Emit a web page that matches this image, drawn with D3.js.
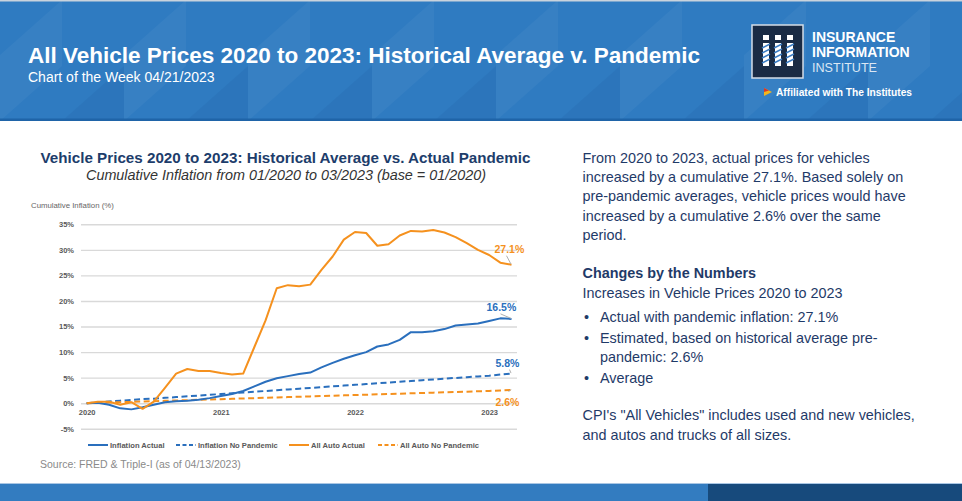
<!DOCTYPE html>
<html>
<head>
<meta charset="utf-8">
<script src="https://cdn.jsdelivr.net/npm/d3@7"></script>
<style>
  html, body { margin: 0; padding: 0; background: #fff; }
  svg { display: block; }
  text { font-family: "Liberation Sans", Arial, sans-serif; }
</style>
</head>
<body>
<svg id="chart" width="962" height="501"></svg>
<script>
// ---------------- DATA ----------------
const months = [
  "2020-01","2020-02","2020-03","2020-04","2020-05","2020-06","2020-07","2020-08","2020-09","2020-10","2020-11","2020-12",
  "2021-01","2021-02","2021-03","2021-04","2021-05","2021-06","2021-07","2021-08","2021-09","2021-10","2021-11","2021-12",
  "2022-01","2022-02","2022-03","2022-04","2022-05","2022-06","2022-07","2022-08","2022-09","2022-10","2022-11","2022-12",
  "2023-01","2023-02","2023-03"
];
const inflationActual = [0.0,0.1,-0.3,-1.0,-1.2,-0.8,-0.3,0.2,0.4,0.5,0.7,1.0,
  1.4,1.8,2.4,3.3,4.2,4.9,5.3,5.7,6.0,7.0,7.9,8.7,
  9.4,10.0,11.1,11.5,12.4,13.9,13.9,14.1,14.5,15.2,15.4,15.6,
  16.1,16.6,16.5];
const inflationNoPandemic = [0.0,0.2,0.35,0.5,0.65,0.8,0.9,1.05,1.2,1.35,1.5,1.65,
  1.8,1.95,2.1,2.25,2.4,2.55,2.7,2.85,3.0,3.15,3.3,3.45,
  3.6,3.75,3.9,4.05,4.2,4.35,4.5,4.65,4.8,4.95,5.1,5.25,
  5.4,5.6,5.8];
const autoActual = [0.0,0.3,0.3,-0.3,0.2,-1.1,0.3,3.0,5.8,6.7,6.3,6.3,
  5.9,5.6,5.8,11.0,16.2,22.5,23.1,22.9,23.2,26.1,28.7,32.0,
  33.5,33.3,30.8,31.1,32.8,33.7,33.6,33.9,33.4,32.5,31.3,30.0,
  29.0,27.5,27.1];
const autoNoPandemic = [0.0,0.07,0.14,0.2,0.27,0.34,0.4,0.47,0.54,0.6,0.67,0.74,
  0.8,0.87,0.94,1.0,1.07,1.14,1.2,1.27,1.34,1.4,1.47,1.54,
  1.6,1.67,1.74,1.8,1.87,1.94,2.0,2.07,2.14,2.2,2.27,2.34,
  2.4,2.5,2.6];
const yTicks = [-5,0,5,10,15,20,25,30,35];
const xTickMonths = ["2020-01","2021-01","2022-01","2023-01"];
const xTickLabels = ["2020","2021","2022","2023"];
const seriesNames = ["Inflation Actual","Inflation No Pandemic","All Auto Actual","All Auto No Pandemic"];
const endLabels = ["16.5%","5.8%","27.1%","2.6%"];

// ---------------- STYLE ----------------
const BLUE = "#2a6fbd", ORANGE = "#f5911e";
const NAVY = "#1d3d6b";
const svg = d3.select("#chart");

// ---------- Header ----------
const hdr = svg.append("g");
hdr.append("rect").attr("x",0).attr("y",0).attr("width",962).attr("height",121).attr("fill","#2f7bc1");
const pat = hdr.append("g");
for (let k = -2; k < 18; k++) {
  const x0 = k * 62;
  if (k % 2 === 0) {
    pat.append("polygon")
      .attr("points", `${x0},121 ${x0},55 ${x0+62},0 ${x0+62},66`)
      .attr("fill","#ffffff").attr("opacity",0.04);
  } else {
    pat.append("polygon")
      .attr("points", `${x0},121 ${x0+62},66 ${x0+62},121`)
      .attr("fill","#1a5a9c").attr("opacity",0.15);
  }
}
hdr.append("rect").attr("x",0).attr("y",0).attr("width",962).attr("height",1.5).attr("fill","#c9d3dd");
hdr.append("rect").attr("x",0).attr("y",118.5).attr("width",962).attr("height",2.5).attr("fill","#1f64a8");

hdr.append("text").attr("x",28).attr("y",63).attr("fill","#fff")
  .attr("font-size",22.4).attr("font-weight","bold")
  .attr("textLength",672).attr("lengthAdjust","spacingAndGlyphs")
  .text("All Vehicle Prices 2020 to 2023: Historical Average v. Pandemic");
hdr.append("text").attr("x",28).attr("y",82).attr("fill","#fff")
  .attr("font-size",14)
  .text("Chart of the Week 04/21/2023");

// logo
const logo = hdr.append("g");
logo.append("rect").attr("x",752).attr("y",25).attr("width",51).attr("height",53)
  .attr("fill","#1a2b44").attr("stroke","#d5dde6").attr("stroke-width",1.5);
[763,775,787].forEach((lx,j) => {
  logo.append("rect").attr("x",lx).attr("y",35).attr("width",6).attr("height",5).attr("fill","#fff");
  logo.append("rect").attr("x",lx).attr("y",43).attr("width",6).attr("height",23).attr("fill","#fff");
  for (let s = 0; s < 4; s++) {
    logo.append("line").attr("x1",lx-1).attr("y1",48+s*5).attr("x2",lx+7).attr("y2",44+s*5)
      .attr("stroke","#3a7cc4").attr("stroke-width",1.4);
  }
});
logo.append("text").attr("x",812).attr("y",42).attr("fill","#fff").attr("font-size",14).attr("font-weight","bold").text("INSURANCE");
logo.append("text").attr("x",812).attr("y",57).attr("fill","#fff").attr("font-size",14).attr("font-weight","bold").text("INFORMATION");
logo.append("text").attr("x",812).attr("y",72).attr("fill","#dbe7f4").attr("font-size",13.5)
  .attr("textLength",65).attr("lengthAdjust","spacingAndGlyphs").text("INSTITUTE");
logo.append("polygon").attr("points","764,88 772,92 764,96").attr("fill","#f2b51c");
logo.append("polygon").attr("points","764,88 769,90.5 764,92").attr("fill","#d9362b");
logo.append("text").attr("x",776).attr("y",96).attr("fill","#fff").attr("font-size",10.5).attr("font-weight","bold")
  .attr("textLength",136).attr("lengthAdjust","spacingAndGlyphs").text("Affiliated with The Institutes");

// ---------- Footer band ----------
svg.append("rect").attr("x",0).attr("y",484).attr("width",708).attr("height",17).attr("fill","#337cc0");
svg.append("rect").attr("x",708).attr("y",484).attr("width",254).attr("height",17).attr("fill","#174a7c");
svg.append("rect").attr("x",0).attr("y",483).attr("width",962).attr("height",1).attr("fill","#a9c6e4");

// ---------- Chart ----------
const x = d3.scalePoint().domain(months).range([86.7, 511.5]);
const y = d3.scaleLinear().domain([-5, 35]).range([428.8, 224.3]);

svg.append("text").attr("x",285.5).attr("y",163).attr("text-anchor","middle")
  .attr("fill",NAVY).attr("font-size",15.2).attr("font-weight","bold")
  .attr("textLength",490).attr("lengthAdjust","spacingAndGlyphs")
  .text("Vehicle Prices 2020 to 2023: Historical Average vs. Actual Pandemic");
svg.append("text").attr("x",286).attr("y",180).attr("text-anchor","middle")
  .attr("fill","#333").attr("font-size",14.2).attr("font-style","italic")
  .attr("textLength",400).attr("lengthAdjust","spacingAndGlyphs")
  .text("Cumulative Inflation from 01/2020 to 03/2023 (base = 01/2020)");
svg.append("text").attr("x",31).attr("y",207.5).attr("fill","#666666").attr("font-size",7.8)
  .text("Cumulative Inflation (%)");

// y axis via d3 axis (gridlines)
const yAxis = d3.axisLeft(y).tickValues(yTicks).tickSize(-(517-81)).tickFormat(d => d + "%");
const gy = svg.append("g").attr("transform","translate(81,0)").call(yAxis);
gy.select(".domain").remove();
gy.selectAll(".tick line").attr("stroke","#d9d9d9").attr("stroke-width",1.4);
gy.selectAll(".tick text").attr("x",-7).attr("fill","#595959").attr("font-size",7.5).attr("font-weight","bold")
  .attr("font-family","Liberation Sans, Arial, sans-serif");

// x axis
const xAxis = d3.axisBottom(x).tickValues(xTickMonths).tickSize(0)
  .tickFormat(d => xTickLabels[xTickMonths.indexOf(d)]);
const gx = svg.append("g").attr("transform","translate(0,404)").call(xAxis);
gx.select(".domain").remove();
gx.selectAll(".tick text").attr("dy",0).attr("y",10.5).attr("fill","#595959").attr("font-size",7.5).attr("font-weight","bold")
  .attr("font-family","Liberation Sans, Arial, sans-serif");

const series = [
  {name: seriesNames[0], values: inflationActual, color: BLUE, dash: null},
  {name: seriesNames[1], values: inflationNoPandemic, color: BLUE, dash: "6,3.5"},
  {name: seriesNames[2], values: autoActual, color: ORANGE, dash: null},
  {name: seriesNames[3], values: autoNoPandemic, color: ORANGE, dash: "6,3.5"}
];
const line = d3.line().x((d,i) => x(months[i])).y(d => y(d));
const drawOrder = [1,3,0,2];
drawOrder.forEach(k => {
  const s = series[k];
  svg.append("path").datum(s.values).attr("d", line)
    .attr("fill","none").attr("stroke", s.color).attr("stroke-width",2)
    .attr("stroke-linejoin","round")
    .attr("stroke-dasharray", s.dash);
});

// end labels with leader lines
const lastM = months[months.length-1];
const ex = x(lastM);
const labelOffsets = [
  {dx:-25, dy:-8, lx1:-11, ly1:-5},
  {dx:-16, dy:-7, lx1:-2, ly1:-4},
  {dx:-17, dy:-12, lx1:-5, ly1:-9},
  {dx:-16, dy:16, lx1:-3, ly1:2}
];
series.forEach((s,k) => {
  const v = s.values[s.values.length-1];
  const ey = y(v);
  const o = labelOffsets[k];
  svg.append("line").attr("x1", ex + o.lx1).attr("y1", ey + o.ly1).attr("x2", ex - 0.5).attr("y2", ey - 0.5)
    .attr("stroke","#b0b0b0").attr("stroke-width",1);
  svg.append("text").attr("x", ex + o.dx).attr("y", ey + o.dy)
    .attr("fill", s.color).attr("font-size",10.5).attr("font-weight","bold")
    .text(endLabels[k]);
});

// legend
const legendX = [88, 176, 289, 378];
series.forEach((s,k) => {
  const g = svg.append("g").attr("transform", `translate(${legendX[k]},445)`);
  g.append("line").attr("x1",0).attr("x2",20).attr("y1",0).attr("y2",0)
    .attr("stroke", s.color).attr("stroke-width",2).attr("stroke-dasharray", s.dash ? "4,2.5" : null);
  g.append("text").attr("x",22).attr("y",2.8).attr("fill","#595959").attr("font-size",7.6).attr("font-weight","bold")
    .text(s.name);
});

svg.append("text").attr("x",40).attr("y",468).attr("fill","#8a8a8a").attr("font-size",10.5)
  .text("Source: FRED & Triple-I (as of 04/13/2023)");

// ---------- Right text ----------
const TXT = "#1f3a68";
const FS = 14.4;
const para = [
  "From 2020 to 2023, actual prices for vehicles",
  "increased by a cumulative 27.1%. Based solely on",
  "pre-pandemic averages, vehicle prices would have",
  "increased by a cumulative 2.6% over the same",
  "period."
];
para.forEach((t,i) => {
  svg.append("text").attr("x",582.5).attr("y",163 + i*19.2).attr("fill",TXT).attr("font-size",FS).text(t);
});
svg.append("text").attr("x",582.5).attr("y",278).attr("fill",TXT).attr("font-size",FS).attr("font-weight","bold")
  .text("Changes by the Numbers");
svg.append("text").attr("x",582.5).attr("y",298).attr("fill",TXT).attr("font-size",FS)
  .text("Increases in Vehicle Prices 2020 to 2023");
const bullets = [
  {t:"Actual with pandemic inflation: 27.1%", y:321.5, b:true},
  {t:"Estimated, based on historical average pre-", y:343, b:true},
  {t:"pandemic: 2.6%", y:361.5, b:false},
  {t:"Average", y:382.5, b:true}
];
bullets.forEach(d => {
  if (d.b) svg.append("text").attr("x",584).attr("y",d.y).attr("fill",TXT).attr("font-size",FS).text("•");
  svg.append("text").attr("x",600).attr("y",d.y).attr("fill",TXT).attr("font-size",FS).text(d.t);
});
svg.append("text").attr("x",582.5).attr("y",420).attr("fill",TXT).attr("font-size",FS)
  .text("CPI's \"All Vehicles\" includes used and new vehicles,");
svg.append("text").attr("x",582.5).attr("y",440).attr("fill",TXT).attr("font-size",FS)
  .text("and autos and trucks of all sizes.");
</script>
</body>
</html>
